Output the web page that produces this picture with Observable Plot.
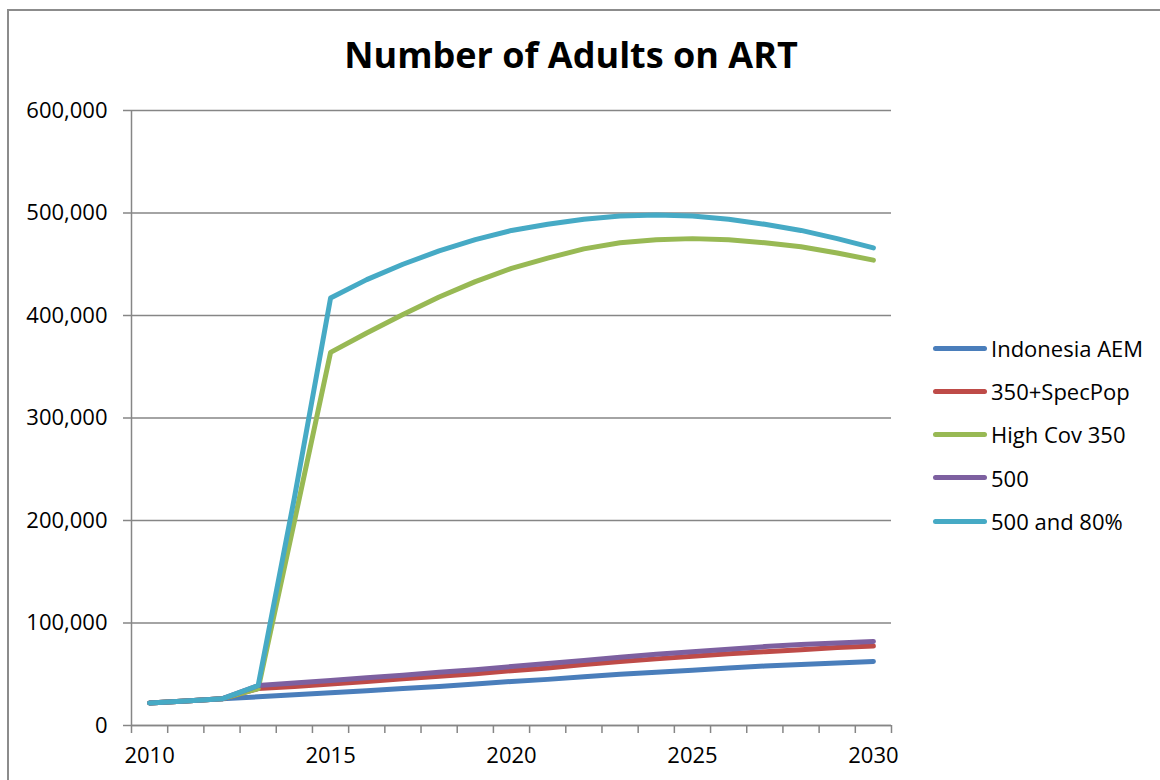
<!DOCTYPE html>
<html>
<head>
<meta charset="utf-8">
<script src="https://cdn.jsdelivr.net/npm/d3@7"></script>
<script src="https://cdn.jsdelivr.net/npm/@observablehq/plot@0.6"></script>
<style>
  html, body { margin: 0; padding: 0; background: #fff; overflow: hidden; }
  #wrap { position: relative; width: 1160px; height: 780px; overflow: hidden; font-family: "Open Sans", sans-serif; }
  #frame { position: absolute; left: 7px; top: 9px; width: 1300px; height: 900px; border: 2px solid #8c8c8c; box-sizing: border-box; }
  #title { position: absolute; left: 0; width: 1142px; top: 37px; text-align: center; font-size: 36px; font-weight: bold; line-height: 1; color: #000; }
  #chart { position: absolute; left: 0; top: 0; }
  #legend { position: absolute; left: 933px; top: 0; }
  .item { position: absolute; left: 0; display: flex; align-items: center; white-space: nowrap; font-size: 22px; line-height: 1; color: #000; }
  .swatch { width: 54px; height: 5px; border-radius: 3px; margin-right: 4px; }
</style>
</head>
<body>
<div id="wrap">
  <div id="frame"></div>
  <div id="chart"></div>
  <div id="title">Number of Adults on ART</div>
  <div id="legend"></div>
</div>
<script>
const years = [2010,2011,2012,2013,2014,2015,2016,2017,2018,2019,2020,2021,2022,2023,2024,2025,2026,2027,2028,2029,2030];
const seriesNames = ["Indonesia AEM", "350+SpecPop", "High Cov 350", "500", "500 and 80%"];
const seriesColors = ["#4A7EBB", "#BE4B48", "#98B954", "#7D60A0", "#46AAC5"];

const indonesiaAEM = [22000,24000,26000,28000,30000,32000,34000,36000,38000,40500,43000,45000,47500,50000,52000,54000,56000,58000,59500,61000,62500];
const specPop350   = [22000,24000,26000,36000,38000,40500,43000,45500,48000,50500,53500,56000,59500,62500,65000,67500,70000,72000,74000,76000,77500];
const highCov350   = [22000,24000,26000,36000,199000,364000,383000,401000,418000,433000,446000,456000,465000,471000,474000,475000,474000,471000,467000,461000,454000];
const s500         = [22000,24000,26000,39000,41500,44000,46500,49000,52000,54500,57500,60500,63500,66500,69500,72000,74500,77000,79000,80500,82000];
const s500and80    = [22000,24000,26000,39000,222000,417000,435000,450000,463000,474000,483000,489000,494000,497000,498000,497000,494000,489000,483000,475000,466000];

const yTicks = [0,100000,200000,300000,400000,500000,600000];
const xLabelYears = [2010,2015,2020,2025,2030];

const seriesValues = [indonesiaAEM, specPop350, highCov350, s500, s500and80];
const data = [];
seriesNames.forEach((name, i) => {
  years.forEach((yr, j) => data.push({series: name, year: yr, value: seriesValues[i][j]}));
});
const boundaries = [years[0] - 0.5, ...years.map(y => y + 0.5)];

const axisGray = "#868686";
const chart = Plot.plot({
  width: 1160,
  height: 780,
  marginLeft: 131,
  marginRight: 269,
  marginTop: 110,
  marginBottom: 55,
  style: { fontFamily: "Open Sans, sans-serif", fontSize: "22px", color: "#000", background: "transparent", overflow: "visible" },
  x: { type: "linear", domain: [years[0] - 0.5, years[years.length - 1] + 0.5] },
  y: { domain: [0, 600000] },
  color: { domain: seriesNames, range: seriesColors },
  marks: [
    Plot.gridY(yTicks, { stroke: axisGray, strokeOpacity: 1, strokeWidth: 1.5 }),
    Plot.axisY({ ticks: yTicks, tickSize: 8, tickPadding: 16, tickFormat: d3.format(","), stroke: axisGray, strokeWidth: 1.5, fill: "#000", label: null }),
    Plot.ruleX([years[0] - 0.5], { stroke: axisGray, strokeWidth: 1.5 }),
    Plot.ruleY([0], { stroke: axisGray, strokeWidth: 1.5 }),
    Plot.axisX({ ticks: boundaries, tickSize: 8, tickFormat: () => "", stroke: axisGray, strokeWidth: 1.5, label: null }),
    Plot.axisX({ ticks: xLabelYears, tickSize: 0, tickPadding: 22, tickFormat: d => String(d), fill: "#000", label: null }),
    Plot.line(data, { x: "year", y: "value", z: "series", stroke: "series", strokeWidth: 5, strokeLinecap: "round", strokeLinejoin: "round" })
  ]
});
document.getElementById("chart").appendChild(chart);

const legend = document.getElementById("legend");
const legendTops = [348, 391, 434, 477.5, 521];
seriesNames.forEach((name, i) => {
  const item = document.createElement("div");
  item.className = "item";
  item.style.top = (legendTops[i] - 12) + "px";
  item.style.height = "24px";
  const sw = document.createElement("span");
  sw.className = "swatch";
  sw.style.background = seriesColors[i];
  const tx = document.createElement("span");
  tx.textContent = name;
  item.appendChild(sw);
  item.appendChild(tx);
  legend.appendChild(item);
});
</script>
</body>
</html>
